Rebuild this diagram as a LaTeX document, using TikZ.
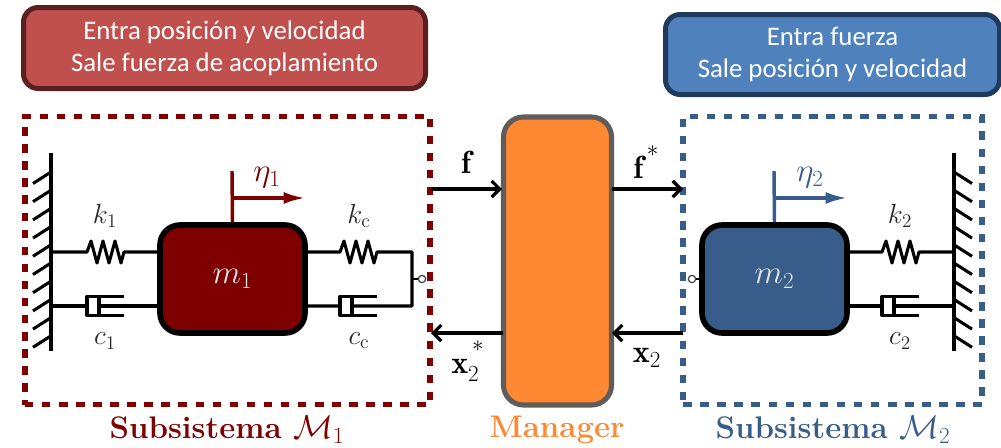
\documentclass[tikz,border=0pt]{standalone}
\usepackage{fontspec}
\usepackage{amsmath,amssymb}
\usetikzlibrary{arrows.meta}
\newfontfamily\hdfont{Carlito}
\definecolor{redbox}{HTML}{C0504D}
\definecolor{redline}{HTML}{5A1F20}
\definecolor{bluebox}{HTML}{4F81BD}
\definecolor{blueline}{HTML}{1F3A5C}
\definecolor{dred}{HTML}{7F0000}
\definecolor{dblue}{HTML}{385D8A}
\definecolor{orng}{HTML}{FF8833}
\definecolor{mgr}{HTML}{615B59}
\tikzset{
  x=0.75pt,y=-0.75pt,
  header/.style={rounded corners=11pt,line width=3.75pt,text=white,font=\hdfont\fontsize{20.1}{24}\selectfont,align=center,inner sep=0pt},
  subsys/.style={draw,line width=4.2pt,dash pattern=on 6.4pt off 6.4pt,fill=none},
  mass/.style={draw=black,line width=4.2pt,rounded corners=15pt,inner sep=0pt,minimum width=108.75pt,minimum height=81pt,font=\fontsize{25}{29}\selectfont,text=white!90!black},
  mech/.style={line width=2.3pt,black,line join=round},
  wallline/.style={line width=2.3pt,black},
  flow/.style={line width=2.4pt,black,-{Straight Barb[length=6pt,width=12pt,line width=2.4pt]}},
  lab/.style={inner sep=0pt,font=\fontsize{21}{24}\selectfont,text=black!85},
  etalab/.style={inner sep=0pt,font=\fontsize{24}{28}\selectfont},
  flab/.style={inner sep=0pt,font=\fontsize{24}{28}\selectfont,text=black},
  title/.style={inner sep=0pt,font=\bfseries\fontsize{23.4}{28}\selectfont},
  port/.style={circle,draw=black!75,fill=white,line width=0.9pt,minimum size=5.5pt,inner sep=0pt},
  velo/.style={line width=2.4pt,-{Latex[length=16pt,width=9pt]}},
}
\newcommand{\zig}[2]{% start x, y
  (#1,#2) -- ++(2,0) -- ++(4,-11) -- ++(6,22) -- ++(6,-22) -- ++(6,22) -- ++(6,-22) -- ++(6,22) -- ++(3,-11) -- ++(1,0)}
\newcommand{\cyl}[2]{% x, y of closed end
  (#1+37,#2-9.5) -- (#1,#2-9.5) -- (#1,#2+9.5) -- (#1+37,#2+9.5)
  (#1+12,#2-9.5) -- (#1+12,#2+9.5)}
\newcommand{\hstar}{\raisebox{7pt}{$\scriptstyle *$}}
\begin{document}
\begin{tikzpicture}
\useasboundingbox (0,0) rectangle (1001,447);
% header boxes
\node[header,draw=redline,fill=redbox,minimum width=301.5pt,minimum height=60.75pt] (hl) at (224.5,48) {Entra posición y velocidad\\Sale fuerza de acoplamiento};
\node[header,draw=blueline,fill=bluebox,minimum width=250.5pt,minimum height=60pt] (hr) at (832.5,54.5) {Entra fuerza\\Sale posición y velocidad};
% subsystems
\node[subsys,draw=dred,minimum width=304pt,minimum height=216pt,inner sep=0pt] (s1) at (227.5,260.5) {};
\node[subsys,draw=dblue,minimum width=224pt,minimum height=216pt,inner sep=0pt] (s2) at (832.5,260.5) {};
% masses
\node[mass,fill=dred] (m1) at (232.5,279) {$m_1$};
\node[mass,fill=dblue] (m2) at (774.5,279) {$m_2$};
% manager
\node[draw=mgr,fill=orng,line width=3.8pt,rounded corners=15pt,minimum width=81pt,minimum height=216pt,inner sep=0pt] (mg) at (557.5,261) {};
% walls
\coordinate (wl1) at (51,153); \coordinate (wl2) at (51,351);
\coordinate (wr1) at (954,153); \coordinate (wr2) at (954,351);
\draw[wallline] (wl1) -- (wl2);
\draw[wallline] (wr1) -- (wr2);
\foreach \i in {0,...,9}{
  \draw[wallline] (51,172+18.2*\i) -- ++(-18,11.5);
  \draw[wallline] (954,172+18.2*\i) -- ++(18,11.5);
}
% left mass connectors
\draw[mech] \zig{85}{252} (51,252) -- (85,252) (125,252) -- (m1.west |- 0,252);
\draw[mech] (51,306) -- (87,306) \cyl{87}{306} (99,306) -- (m1.west |- 0,306);
\draw[mech] (m1.east |- 0,252) -- (338,252) \zig{338}{252} (378,252) -- (412,252) -- (412,306) -- (352,306) (340,306) -- (m1.east |- 0,306);
\draw[mech] \cyl{340}{306};
\coordinate (wj) at (412,279);
\node[port] (pl) at (422,279) {};
\draw[line width=1.4pt,black] (wj) -- (pl);
% right mass connectors
\draw[mech] (m2.east |- 0,252) -- (880,252) \zig{880}{252} (920,252) -- (954,252);
\draw[mech] (m2.east |- 0,306) -- (882,306) \cyl{882}{306} (894,306) -- (954,306);
\node[port] (pr) at (692,279) {};
\draw[line width=1.4pt,black] (pr) -- (m2.west |- 0,279);
% velocity markers
\coordinate (e1) at (232,171); \coordinate (e1h) at (232,198); \coordinate (e1t) at (305,198);
\coordinate (e2) at (774,171); \coordinate (e2h) at (774,198); \coordinate (e2t) at (847,198);
\draw[line width=2.6pt,dred] (e1) -- (m1.north);
\draw[velo,dred] (e1h) -- (e1t);
\draw[line width=2.6pt,dblue] (e2) -- (m2.north);
\draw[velo,dblue] (e2h) -- (e2t);
\node[etalab,text=dred] (n1) at (267,178) {$\eta_1$};
\node[etalab,text=dblue] (n2) at (810,178) {$\eta_2$};
% parameters
\node[lab] (k1) at (105,216) {$k_1$};
\node[lab] (c1) at (105,341) {$c_1$};
\node[lab] (kc) at (359,216) {$k_{\mathrm{c}}$};
\node[lab] (cc) at (359,341) {$c_{\mathrm{c}}$};
\node[lab] (k2) at (900,216) {$k_2$};
\node[lab] (c2) at (900,341) {$c_2$};
% flows
\coordinate (f0) at (431,189); \coordinate (f1) at (502,189);
\coordinate (g0) at (612,189); \coordinate (g1) at (683,189);
\coordinate (h0) at (503,333); \coordinate (h1) at (431,333);
\coordinate (i0) at (683,333); \coordinate (i1) at (612,333);
\draw[flow] (f0) -- (f1);
\draw[flow] (g0) -- (g1);
\draw[flow] (h0) -- (h1);
\draw[flow] (i0) -- (i1);
\node[flab] (lf) at (466,162) {$\mathbf{f}$};
\node[flab,anchor=base west] (lfs) at (633,178) {$\mathbf{f}^{\,\hstar}$};
\node[flab,anchor=base west] (lxs) at (451,373) {$\mathbf{x}_2^{\,\hstar}$};
\node[flab] (lx) at (647,358) {$\mathbf{x}_2$};
% titles
\node[title,text=dred] (t1) at (227,430) {Subsistema $\mathcal{M}_1$};
\node[title,text=orng] (t2) at (557,430) {Manager};
\node[title,text=dblue] (t3) at (833,430) {Subsistema $\mathcal{M}_2$};
\end{tikzpicture}
\end{document}
